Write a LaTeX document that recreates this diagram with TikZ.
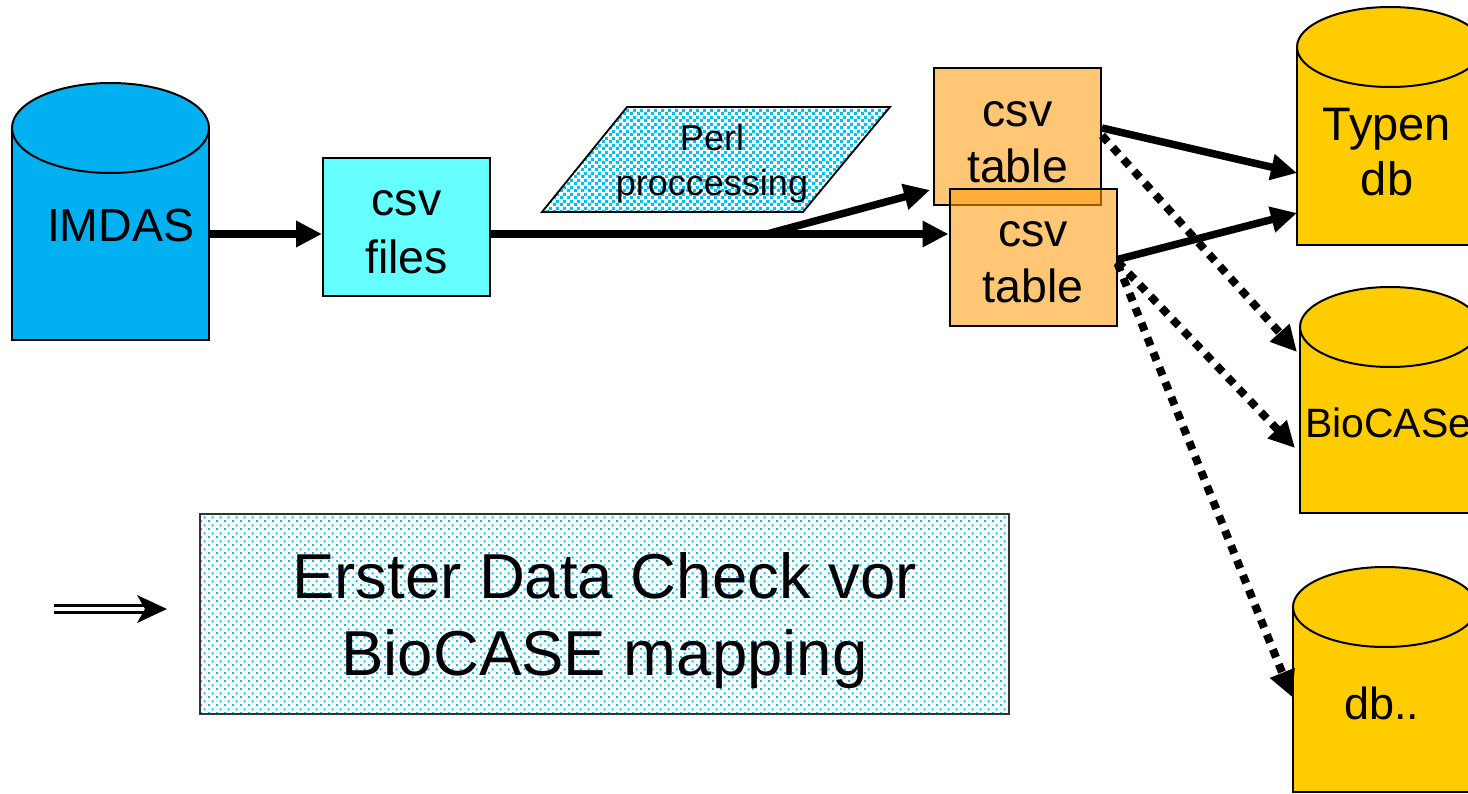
\documentclass[tikz,border=0pt]{standalone}
\usepackage{fontspec}
\setmainfont{Liberation Sans}
\usetikzlibrary{arrows.meta,patterns.meta}

\definecolor{imdasblue}{HTML}{00B0F0}
\definecolor{filecyan}{HTML}{66FFFF}
\definecolor{tableorange}{RGB}{255,157,17}
\definecolor{dbyellow}{HTML}{FFCC00}
\definecolor{dotcyan}{HTML}{00C0F0}

\tikzdeclarepattern{name=perlsq, type=uncolored,
  bottom left={(0pt,0pt)}, top right={(7pt,7pt)}, tile size={(7pt,7pt)},
  code={\fill (0pt,0pt) rectangle (3.6pt,3.6pt); \fill (3.5pt,3.5pt) rectangle (7pt,7pt);}}
\tikzdeclarepattern{name=finedots, type=uncolored,
  bottom left={(0pt,0pt)}, top right={(8pt,8pt)}, tile size={(8pt,8pt)},
  code={\fill (0pt,0pt) rectangle (2.2pt,2.2pt); \fill (4pt,4pt) rectangle (6.2pt,6.2pt);}}

\tikzset{
  outline/.style={draw=black, line width=2pt},
  bodybox/.style={inner sep=0pt, outer sep=0pt, minimum width=#1},
  lbl/.style={inner sep=0pt, outer sep=0pt, text=black, align=center},
  arr/.style={line width=7.5pt, -{Triangle[length=26pt,width=25pt]}},
  dotarr/.style={line width=8pt, dash pattern=on 8.5pt off 7.5pt, -{Triangle[length=26pt,width=25pt]}},
  tablebox/.style={outline, fill=tableorange, fill opacity=0.58, minimum width=167pt, minimum height=137pt, inner sep=0pt},
}

\begin{document}
\begin{tikzpicture}[x=1pt,y=-1pt]
\useasboundingbox (0,0) rectangle (1468,794);
\clip (0,0) rectangle (1468,794);

% ---------- IMDAS cylinder ----------
\filldraw[outline, fill=imdasblue] (12,128) rectangle (209,340);
\filldraw[outline, fill=imdasblue] (110.5,128) ellipse [x radius=98.5pt, y radius=45pt];
\node[bodybox=197pt, minimum height=212pt] (imdas) at (110.5,234) {};
\node[lbl, anchor=base west, font=\fontsize{46.5}{56}\selectfont] (imdastxt) at (47,242) {IMDAS};

% ---------- csv files ----------
\node[outline, fill=filecyan, minimum width=167pt, minimum height=138pt, inner sep=0pt] (csvfiles) at (406.5,227) {};
\node[lbl, anchor=north, font=\fontsize{46.5}{58}\selectfont] (csvfilestxt) at (406.5,190) {csv\\files};

% ---------- Perl processing ----------
\filldraw[outline, line width=1.8pt, pattern=perlsq, pattern color=dotcyan] (627,107) -- (890,107) -- (803,212) -- (542,212) -- cycle;
\node[lbl, anchor=north, font=\fontsize{36}{45}\selectfont] (perl) at (712,124) {Perl\\proccessing};

% ---------- csv tables ----------
\node[tablebox] (table1) at (1017.5,136.5) {};
\node[tablebox] (table2) at (1033,257.5) {};
\node[lbl, anchor=north, font=\fontsize{46.5}{56}\selectfont] (table1txt) at (1017.5,101) {csv\\table};
\node[lbl, anchor=north, font=\fontsize{46.5}{56}\selectfont] (table2txt) at (1033,221) {csv\\table};

% ---------- Typen db ----------
\filldraw[outline, fill=dbyellow] (1297,47) rectangle (1483,245);
\filldraw[outline, fill=dbyellow] (1390,47) ellipse [x radius=93pt, y radius=40pt];
\node[bodybox=186pt, minimum height=198pt] (typen) at (1390,146) {};
\node[lbl, anchor=north, font=\fontsize{47}{55}\selectfont] (typentxt) at (1387,108) {Typen\\db};

% ---------- BioCASe ----------
\filldraw[outline, fill=dbyellow] (1300,327) rectangle (1480,513);
\filldraw[outline, fill=dbyellow] (1390,327) ellipse [x radius=90pt, y radius=40pt];
\node[bodybox=180pt, minimum height=186pt] (biocase) at (1390,420) {};
\node[lbl, anchor=base west, font=\fontsize{41}{50}\selectfont] (biocasetxt) at (1305,437) {BioCASe};

% ---------- db.. ----------
\filldraw[outline, fill=dbyellow] (1293,607) rectangle (1477,792);
\filldraw[outline, fill=dbyellow] (1385,607) ellipse [x radius=92pt, y radius=40pt];
\node[bodybox=184pt, minimum height=185pt] (dbx) at (1385,699.5) {};
\node[lbl, anchor=base west, font=\fontsize{45}{54}\selectfont] (dbxtxt) at (1344,719) {db..};

% ---------- Erster Data Check ----------
\node[draw=black!80, line width=1.8pt, pattern=finedots, pattern color=dotcyan, minimum width=809pt, minimum height=200pt, inner sep=0pt] (check) at (604.5,614) {};
\node[lbl, anchor=north, font=\fontsize{63.5}{77}\selectfont] (checktxt) at (604.5,552.5) {Erster Data Check vor\\BioCASE mapping};

% ---------- connectors ----------
\draw[arr] (imdas.east) -- (imdas.east -| csvfiles.west);
\draw[arr] (csvfiles.east |- imdas.east) -- (imdas.east -| table2.west);
\coordinate (br) at (767,234);
\draw[arr] (br) -- ([xshift=-3pt,yshift=-53.5pt]table1.west);

\draw[arr] ([yshift=8.5pt]table1.east) -- ([yshift=-27pt]typen.west);
\draw[arr] ([yshift=-2pt]table2.east) -- ([yshift=-67pt]typen.west);

\draw[dotarr] ([yshift=1pt]table1.east) -- ([xshift=-3pt,yshift=68pt]biocase.west);
\draw[dotarr] ([yshift=-4pt]table2.east) -- ([xshift=-5pt,yshift=-28pt]biocase.west);
\draw[dotarr] ([yshift=-6pt]table2.east) -- ([xshift=-1pt,yshift=2.5pt]dbx.west);

% ---------- double arrow ----------
\coordinate (dstart) at (54,609);
\coordinate (dtip) at (167,609);
\draw[double=white, draw=black, line width=3.5pt, double distance=3.5pt] (dstart) -- ([xshift=-22pt]dtip);
\fill[black] (dtip) -- ([xshift=-30pt,yshift=14pt]dtip) -- ([xshift=-22pt]dtip) -- ([xshift=-30pt,yshift=-14pt]dtip) -- cycle;
\end{tikzpicture}
\end{document}
